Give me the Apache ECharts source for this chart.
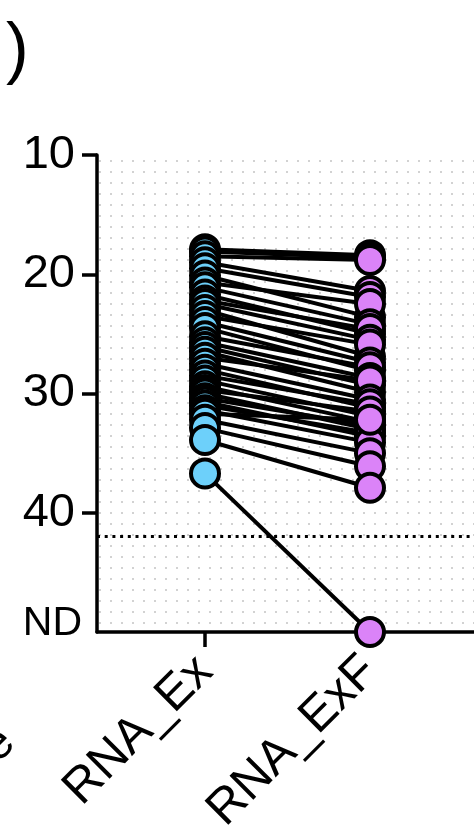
<!DOCTYPE html>
<html>
<head>
<meta charset="utf-8">
<script src="https://cdn.jsdelivr.net/npm/echarts@6/dist/echarts.min.js"></script>
<style>
html,body{margin:0;padding:0;background:#fff;}
#chart{width:474px;height:825px;}
</style>
</head>
<body>
<div id="chart"></div>
<script>
// ---- data ----
var categories = ['RNA_Ex', 'RNA_ExF'];
var exValues  = [17.9,18.1,18.5,19.0,19.5,20.1,20.7,21.1,21.7,22.2,22.5,23.0,23.5,24.0,24.5,25.2,25.7,26.1,26.5,27.0,27.5,28.0,28.5,28.9,29.4,29.7,30.0,30.4,30.7,31.0,31.4,31.7,32.2,32.9,33.9,36.7];
var exfValues = [18.4,18.6,18.8,21.4,21.9,23.6,22.5,24.2,25.0,24.6,25.5,26.9,25.9,27.4,28.1,27.8,28.7,29.3,29.9,28.9,30.5,31.2,30.9,31.9,32.4,31.5,33.0,32.7,33.6,33.3,34.1,32.2,35.0,36.1,37.9,'ND'];
var yTickValues = [10, 20, 30, 40, 50];
var yTickLabels = ['10', '20', '30', '40', 'ND'];
var ndValue = 50;
var thresholdValue = 42;

function toY(v){ return v === 'ND' ? ndValue : v; }

var exPoints = exValues.map(function(v){ return [1, toY(v)]; });
var exfPoints = exfValues.map(function(v){ return [2, toY(v)]; });
var pairLines = exValues.map(function(v, i){ return { coords: [[1, toY(v)], [2, toY(exfValues[i])]] }; });

// dotted background pattern
var pc = document.createElement('canvas');
pc.width = 11; pc.height = 11;
var pctx = pc.getContext('2d');
pctx.fillStyle = '#d2d2d2';
pctx.fillRect(0, 6, 2, 2);

var FONT = 'Liberation Sans, Arial, Helvetica, sans-serif';
var chart = echarts.init(document.getElementById('chart'), null, {renderer: 'canvas'});
chart.setOption({
  animation: false,
  backgroundColor: '#ffffff',
  grid: {
    left: 97, top: 155, right: 0, bottom: 193,
    containLabel: false,
    outerBoundsMode: 'none',
    show: true, borderWidth: 0,
    backgroundColor: { image: pc, repeat: 'repeat' }
  },
  xAxis: {
    type: 'value',
    min: 1 - 108 / 165,
    max: 1 - 108 / 165 + 377 / 165,
    splitLine: { show: false },
    axisLine: { show: true, onZero: false, lineStyle: { color: '#000', width: 3.5 } },
    axisTick: { show: true, customValues: [1, 2], length: 15, inside: false, lineStyle: { color: '#000', width: 3.5 } },
    axisLabel: {
      customValues: [1, 2],
      rotate: 45,
      margin: 32,
      fontSize: 49,
      fontFamily: FONT,
      color: '#000',
      formatter: function(v){ return categories[Math.round(v) - 1] || ''; }
    }
  },
  yAxis: {
    type: 'value',
    inverse: true,
    min: 10, max: 50, interval: 10,
    splitLine: { show: false },
    axisLine: { show: true, lineStyle: { color: '#000', width: 3.5 } },
    axisTick: { show: true, customValues: [10, 20, 30, 40], length: 15, lineStyle: { color: '#000', width: 3.5 } },
    axisLabel: {
      margin: 15,
      color: '#000',
      fontFamily: FONT,
      formatter: function(v){
        var idx = yTickValues.indexOf(v);
        var t = idx >= 0 ? yTickLabels[idx] : '';
        return t === 'ND' ? '{nd|ND}' : '{n|' + t + '}';
      },
      rich: {
        n: { fontSize: 47, fontFamily: FONT, color: '#000', padding: [0, 7, 0, 0] },
        nd: { fontSize: 41, fontFamily: FONT, color: '#000', padding: [0, 0, 16, 0] }
      }
    }
  },
  graphic: [
    { type: 'text', left: 6, top: 18, style: { text: ')', fontSize: 68, fontFamily: FONT, fill: '#000' } },
    { type: 'text', x: -2, y: 745, rotation: Math.PI / 4, style: { text: 'e', fontSize: 48, fontFamily: FONT, fill: '#000', align: 'center', verticalAlign: 'middle' } }
  ],
  series: [
    {
      type: 'lines',
      coordinateSystem: 'cartesian2d',
      z: 2,
      lineStyle: { color: '#000', width: 4, opacity: 1 },
      data: pairLines,
      markLine: {
        silent: true,
        symbol: ['none', 'none'],
        label: { show: false },
        lineStyle: { color: '#000', width: 3, type: [3, 4.7] },
        data: [{ yAxis: thresholdValue }]
      }
    },
    {
      type: 'scatter', z: 3,
      symbol: 'circle', symbolSize: 28,
      itemStyle: { color: '#6DD0FA', borderColor: '#000', borderWidth: 4, opacity: 1 },
      data: exPoints
    },
    {
      type: 'scatter', z: 3,
      symbol: 'circle', symbolSize: 28,
      itemStyle: { color: '#DB83F8', borderColor: '#000', borderWidth: 4, opacity: 1 },
      data: exfPoints
    }
  ]
});
</script>
</body>
</html>
